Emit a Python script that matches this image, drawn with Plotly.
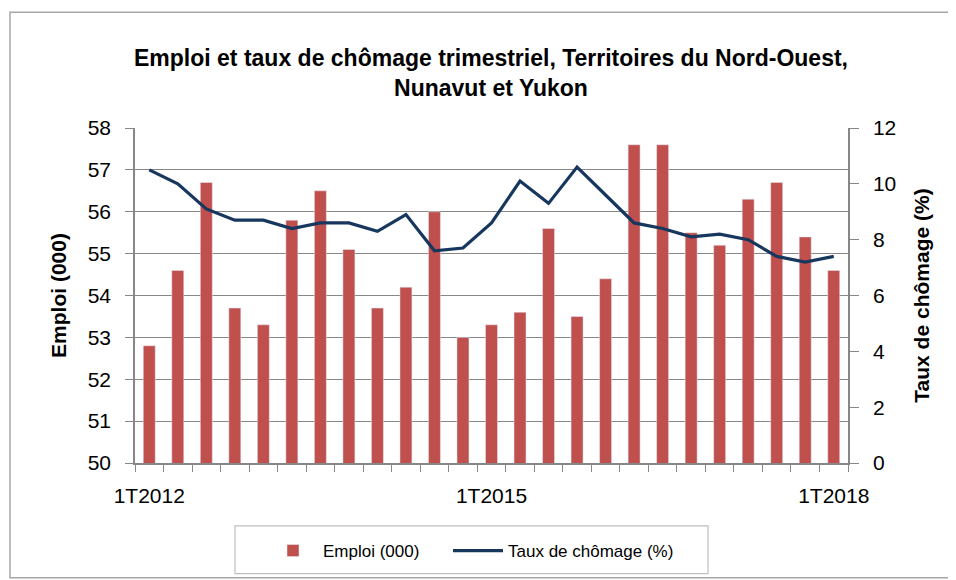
import plotly.graph_objects as go

quarters = [f"{q}T{y}" for y in range(2012, 2019) for q in range(1, 5)][:25]
tick_labels = [lab if lab in ("1T2012", "1T2015", "1T2018") else "" for lab in quarters]

emploi = [52.8, 54.6, 56.7, 53.7, 53.3, 55.8, 56.5, 55.1, 53.7, 54.2, 56.0, 53.0, 53.3,
          53.6, 55.6, 53.5, 54.4, 57.6, 57.6, 55.5, 55.2, 56.3, 56.7, 55.4, 54.6]
chomage = [10.5, 10.0, 9.1, 8.7, 8.7, 8.4, 8.6, 8.6, 8.3, 8.9, 7.6, 7.7, 8.6,
           10.1, 9.3, 10.6, 9.6, 8.6, 8.4, 8.1, 8.2, 8.0, 7.4, 7.2, 7.4]

FONT = "Liberation Sans, Arial, sans-serif"
GRAY = "#878787"

# page body has an 8px margin: work in reference pixel coords, shifted by OFF
OFF = 8
W, H = 956 - OFF, 580 - OFF
PL, PR, PT, PB = 135, 848, 128, 464  # plot area in reference coords
L, R, T, B = PL - OFF, 956 - PR, PT - OFF, 580 - PB
pw, ph = PR - PL, PB - PT

def px(x):
    return (x - PL) / pw

def py(y):
    return (PB - y) / ph

fig = go.Figure()
fig.add_trace(go.Bar(x=quarters, y=emploi, name="Emploi (000)", marker_color="#C0504D",
                     width=0.42, yaxis="y", legend="legend"))
fig.add_trace(go.Scatter(x=quarters, y=chomage, name="Taux de chômage (%)", mode="lines",
                         line=dict(color="#17375E", width=3.2), yaxis="y2", legend="legend2"))

leg_common = dict(orientation="h", xanchor="left", y=py(551), yanchor="middle",
                  borderwidth=0, bgcolor="rgba(0,0,0,0)",
                  font=dict(size=17, family=FONT), itemwidth=50)

fig.update_layout(
    width=W, height=H,
    margin=dict(l=L, r=R, t=T, b=B),
    paper_bgcolor="white", plot_bgcolor="white",
    font=dict(family=FONT, color="black"),
    title=dict(text="<b>Emploi et taux de chômage trimestriel, Territoires du Nord-Ouest,<br>Nunavut et Yukon</b>",
               x=(491 - OFF) / W, xanchor="center", y=1 - (66 - OFF) / H, yanchor="middle",
               font=dict(size=23, family=FONT)),
    showlegend=True,
    legend=dict(x=px(263), **leg_common),
    legend2=dict(x=px(448), **leg_common),
    xaxis=dict(type="category", tickmode="array", tickvals=quarters, ticktext=tick_labels,
               tickson="boundaries", ticks="outside", ticklen=7, tickcolor=GRAY,
               showline=True, linecolor=GRAY, linewidth=1.5, showgrid=False,
               tickfont=dict(size=21, family=FONT), tickangle=0, ticklabelstandoff=13),
    yaxis=dict(range=[50, 58], dtick=1, tick0=50, showgrid=True, gridcolor=GRAY, gridwidth=1.2,
               ticks="outside", ticklen=8, tickcolor=GRAY, showline=True, linecolor=GRAY,
               linewidth=1.5, tickfont=dict(size=21, family=FONT), zeroline=False,
               ticklabelstandoff=10,
               title=dict(text="<b>Emploi (000)</b>", font=dict(size=21, family=FONT), standoff=15)),
    yaxis2=dict(range=[0, 12], dtick=2, tick0=0, overlaying="y", side="right", showgrid=False,
                ticks="outside", ticklen=9, tickcolor=GRAY, showline=True, linecolor=GRAY,
                linewidth=1.5, tickfont=dict(size=21, family=FONT), zeroline=False,
                ticklabelstandoff=10,
                title=dict(text="<b>Taux de chômage (%)</b>", font=dict(size=21, family=FONT), standoff=19)),
    shapes=[dict(type="rect", xref="paper", yref="paper",
                 x0=px(10), x1=px(955), y0=py(579), y1=py(12),
                 line=dict(color="#A6A6A6", width=1.5), fillcolor="rgba(0,0,0,0)", layer="below"),
            dict(type="rect", xref="paper", yref="paper",
                 x0=px(235), x1=px(708), y0=py(575), y1=py(527),
                 line=dict(color="#BFBFBF", width=1.2), fillcolor="rgba(0,0,0,0)", layer="below")],
)

fig.write_html("out.html")
